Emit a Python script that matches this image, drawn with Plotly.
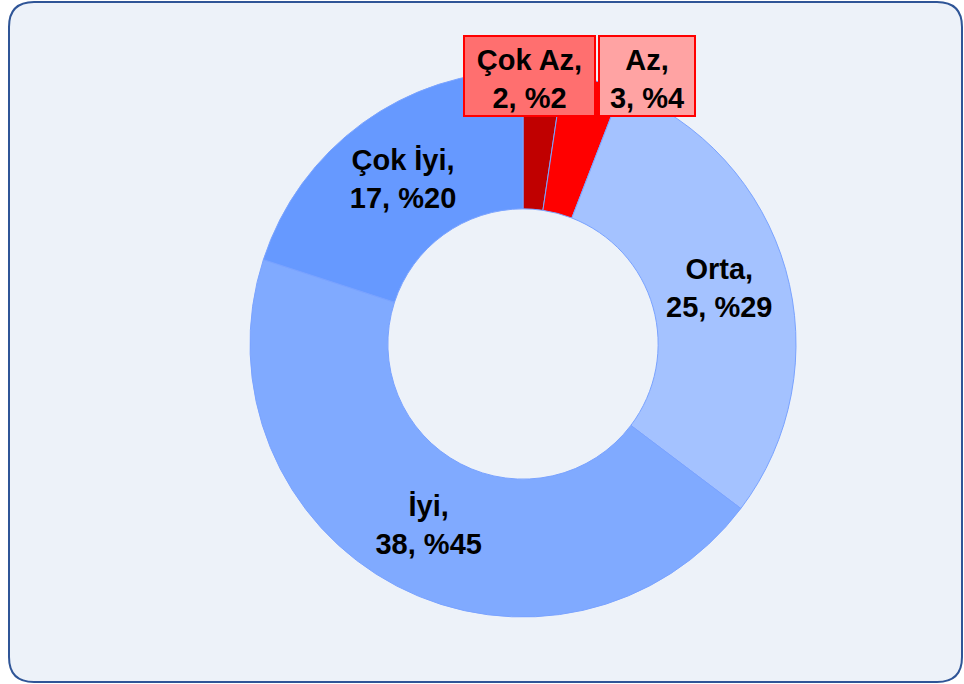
import plotly.graph_objects as go

labels = ["Çok Az", "Az", "Orta", "İyi", "Çok İyi"]
values = [2, 3, 25, 38, 17]
colors = ["#C00000", "#FF0000", "#A4C2FF", "#80AAFF", "#6699FF"]

total = sum(values)
pct = ["%" + str(round(v / total * 100)) for v in values]
texts = ["" if i < 2 else f"{labels[i]},<br>{values[i]}, {pct[i]}" for i in range(len(values))]

W, H = 964, 684
cx, cy, R = 523, 344, 273
FONT = dict(family="Liberation Sans, Arial", size=29, color="black", weight="bold")

fig = go.Figure(go.Pie(
    labels=labels, values=values, hole=0.495, sort=False, direction="clockwise",
    rotation=0,
    marker=dict(colors=colors, line=dict(color="#7AA3FF", width=1)),
    text=texts, textinfo="text", textposition="inside",
    insidetextorientation="horizontal",
    textfont=FONT,
    showlegend=False, hoverinfo="label+value+percent",
    domain=dict(x=[(cx - R) / W, (cx + R) / W], y=[(H - cy - R) / H, (H - cy + R) / H]),
))

# rounded frame
x0, y0, x1, y1, r = 9 / W, 1 - 2 / H, 962 / W, 1 - 682 / H, 25
rx, ry = r / W, r / H
path = (f"M {x0+rx},{y0} L {x1-rx},{y0} Q {x1},{y0} {x1},{y0-ry} "
        f"L {x1},{y1+ry} Q {x1},{y1} {x1-rx},{y1} L {x0+rx},{y1} "
        f"Q {x0},{y1} {x0},{y1+ry} L {x0},{y0-ry} Q {x0},{y0} {x0+rx},{y0} Z")
fig.add_shape(type="path", path=path, xref="paper", yref="paper",
              fillcolor="#EDF2F9", line=dict(color="#2F5597", width=2), layer="below")

box_fill = ["#FF6F6F", "#FFA3A3"]
box_x = [529.5, 647]
box_w = [127, 92]
for i in range(2):
    fig.add_annotation(
        x=box_x[i] / W, y=1 - 76 / H, xref="paper", yref="paper",
        text=f"{labels[i]},<br>{values[i]}, {pct[i]}", showarrow=False,
        font=FONT, width=box_w[i], height=76, valign="bottom",
        bgcolor=box_fill[i], bordercolor="#FF0000", borderwidth=2,
        borderpad=1, xanchor="center", yanchor="middle",
    )

fig.update_layout(width=W, height=H, margin=dict(l=0, r=0, t=0, b=0),
                  paper_bgcolor="white", plot_bgcolor="white")
fig.write_html("out.html", config={"displayModeBar": False},
               post_script="document.body.style.margin='0';document.body.style.overflow='hidden';")
